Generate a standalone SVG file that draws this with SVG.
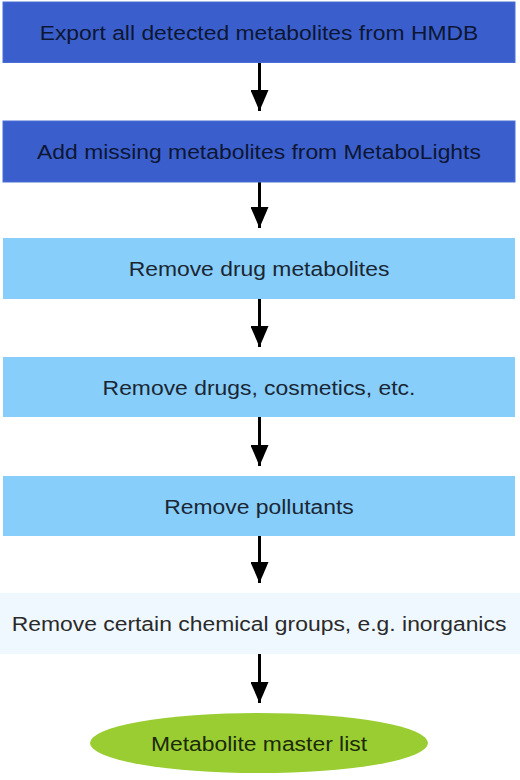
<svg xmlns="http://www.w3.org/2000/svg" width="520" height="780" viewBox="0 0 520 780">
<defs>
<style>
.t{font-family:"Liberation Sans",Arial,sans-serif;font-size:21px;text-anchor:middle;}
.dark{fill:#3a5fcd;stroke:#4a6ed6;stroke-width:1}
.light{fill:#87cefa}
.pale{fill:#f0f8ff}
.conn{stroke:#000;stroke-width:3;fill:none}
</style>
<marker id="ah" viewBox="0 0 21 18" refX="21" refY="9" markerWidth="21" markerHeight="18" markerUnits="userSpaceOnUse" orient="auto">
<path d="M0,0 L21,9 L0,18 z" fill="#000"/>
</marker>
</defs>
<rect width="520" height="780" fill="#fff"/>
<g id="connectors">
<path class="conn" d="M259.5,62 V111" marker-end="url(#ah)"/>
<path class="conn" d="M259.5,182 V228" marker-end="url(#ah)"/>
<path class="conn" d="M259.5,299 V347" marker-end="url(#ah)"/>
<path class="conn" d="M259.5,417 V466" marker-end="url(#ah)"/>
<path class="conn" d="M259.5,536 V583" marker-end="url(#ah)"/>
<path class="conn" d="M259.5,654 V703" marker-end="url(#ah)"/>
</g>
<g id="n1">
<rect class="dark" x="3" y="2" width="512" height="60.5"/>
<text class="t" fill="#0d1633" transform="translate(259,39.5) scale(1.09,1)">Export all detected metabolites from HMDB</text>
</g>
<g id="n2">
<rect class="dark" x="3" y="121" width="512" height="61"/>
<text class="t" fill="#0d1633" transform="translate(259,159) scale(1.09,1)">Add missing metabolites from MetaboLights</text>
</g>
<g id="n3">
<rect class="light" x="3" y="238" width="512" height="61"/>
<text class="t" fill="#1a2633" transform="translate(259,276) scale(1.09,1)">Remove drug metabolites</text>
</g>
<g id="n4">
<rect class="light" x="3" y="357" width="512" height="60"/>
<text class="t" fill="#1a2633" transform="translate(259,394.5) scale(1.09,1)">Remove drugs, cosmetics, etc.</text>
</g>
<g id="n5">
<rect class="light" x="3" y="476" width="512" height="60"/>
<text class="t" fill="#1a2633" transform="translate(259,513.5) scale(1.09,1)">Remove pollutants</text>
</g>
<g id="n6">
<rect class="pale" x="0" y="593" width="520" height="61"/>
<text class="t" fill="#2a2a2a" transform="translate(259,631) scale(1.09,1)">Remove certain chemical groups, e.g. inorganics</text>
</g>
<g id="n7">
<ellipse cx="259" cy="743" rx="169" ry="30" fill="#9acd32"/>
<text class="t" fill="#1a2a0a" transform="translate(259,750.5) scale(1.09,1)">Metabolite master list</text>
</g>
</svg>
